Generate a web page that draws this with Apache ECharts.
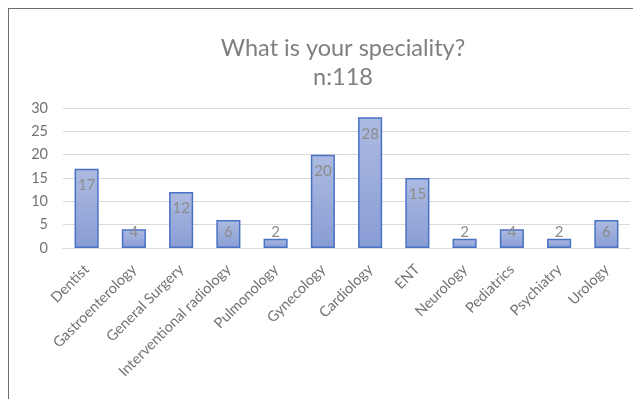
<!DOCTYPE html>
<html><head><meta charset="utf-8">
<script src="https://cdn.jsdelivr.net/npm/echarts@6/dist/echarts.min.js"></script>
<style>
html,body{margin:0;padding:0;background:#fff;}
#frame{position:absolute;left:8px;top:8px;width:640px;height:400px;border-left:1px solid #6e6e6e;border-top:1px solid #6e6e6e;}
#c{position:absolute;left:0;top:0;width:633px;height:399px;}
</style></head>
<body>
<div id="frame"></div>
<div id="c"></div>
<script>
const categories = ["Dentist","Gastroenterology","General Surgery","Interventional radiology","Pulmonology","Gynecology","Cardiology","ENT","Neurology","Pediatrics","Psychiatry","Urology"];
const values = [17,4,12,6,2,20,28,15,2,4,2,6];
const yTicks = {min:0,max:30,interval:5};
const titleLines = ["What is your speciality?","n:118"];

const chart = echarts.init(document.getElementById('c'), null, {renderer:'canvas'});
const data = values.map(v => ({
  value: v,
  label: v <= 6 ? {position:'insideBottom', distance:8} : {position:'insideTop', distance:9}
}));
chart.setOption({
  animation:false,
  title:{
    text: titleLines.join('\n'),
    left: 338, top: 29, textAlign:'center',
    textStyle:{fontFamily:'Lato', fontSize:23.5, fontWeight:'normal', color:'#7f7f7f', lineHeight:29}
  },
  grid:{left:63, right:3, top:108, bottom:151},
  xAxis:{
    type:'category', data:categories,
    axisLine:{lineStyle:{color:'#d9d9d9'}},
    axisTick:{show:false},
    axisLabel:{rotate:45, interval:0, margin:19, color:'#737373', fontFamily:'Lato', fontSize:14.5}
  },
  yAxis:{
    type:'value', min:yTicks.min, max:yTicks.max, interval:yTicks.interval,
    axisLine:{show:false}, axisTick:{show:false},
    splitLine:{lineStyle:{color:'#d9d9d9', width:1}},
    axisLabel:{margin:15, color:'#737373', fontFamily:'Lato', fontSize:14.5}
  },
  series:[{
    type:'bar', data:data, barCategoryGap:'49%',
    itemStyle:{
      color:new echarts.graphic.LinearGradient(0,0,0,1,[{offset:0,color:'#adbbe1'},{offset:1,color:'#889dd5'}]),
      borderColor:'#4a72c4', borderWidth:1.5
    },
    label:{show:true, color:'#8c8c8c', fontFamily:'Lato', fontSize:15}
  }]
});
</script>
</body></html>
